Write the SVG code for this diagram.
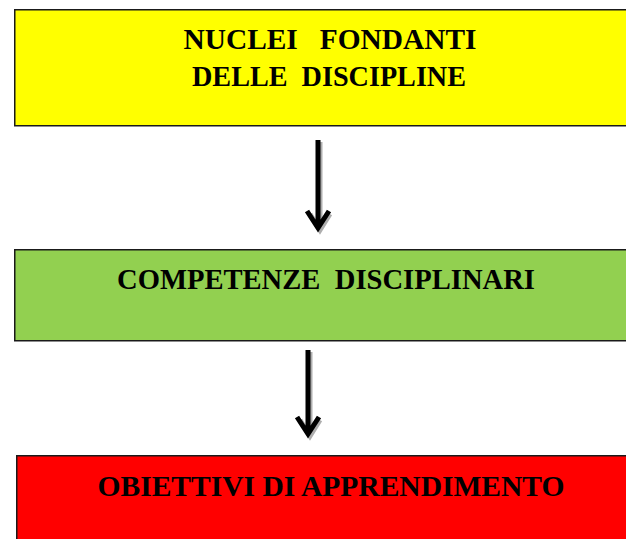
<svg xmlns="http://www.w3.org/2000/svg" width="626" height="539" viewBox="0 0 626 539">
<style>
.box{stroke:#1a1a1a;stroke-width:1.5}
.t{font-family:"Liberation Serif",serif;font-weight:bold;font-size:30px;fill:#000;text-anchor:middle}
.ar{fill:none;stroke:#000;stroke-width:5;stroke-linecap:butt;stroke-linejoin:miter}
.sh{fill:none;stroke:#9a9a9a;stroke-width:5;opacity:0.8}
</style>
<rect width="626" height="539" fill="#fff"/>
<g id="nuclei">
<rect class="box" x="14.75" y="9.75" width="620" height="116" fill="#ffff00"/>
<text class="t" x="330" y="49" textLength="293" lengthAdjust="spacingAndGlyphs" xml:space="preserve">NUCLEI   FONDANTI</text>
<text class="t" x="329" y="86" textLength="274" lengthAdjust="spacingAndGlyphs" xml:space="preserve">DELLE  DISCIPLINE</text>
</g>
<g id="competenze">
<rect class="box" x="14.75" y="249.75" width="620" height="91" fill="#92d050"/>
<text class="t" x="326" y="289" textLength="418" lengthAdjust="spacingAndGlyphs" xml:space="preserve">COMPETENZE  DISCIPLINARI</text>
</g>
<g id="obiettivi">
<rect class="box" x="16.75" y="455.75" width="620" height="100" fill="#ff0000"/>
<text class="t" x="331" y="496" textLength="467" lengthAdjust="spacingAndGlyphs">OBIETTIVI DI APPRENDIMENTO</text>
</g>
<g id="connectors">
<path class="sh" d="M320 142 L320 230 M310 214 L320 230 L330 214"/>
<path class="ar" d="M318 140 L318 228 M307 211 L318 228 L329 211"/>
<path class="sh" d="M310 352 L310 436 M300 420 L310 436 L320 420"/>
<path class="ar" d="M308 350 L308 434 M297 417 L308 434 L319 417"/>
</g>
</svg>
